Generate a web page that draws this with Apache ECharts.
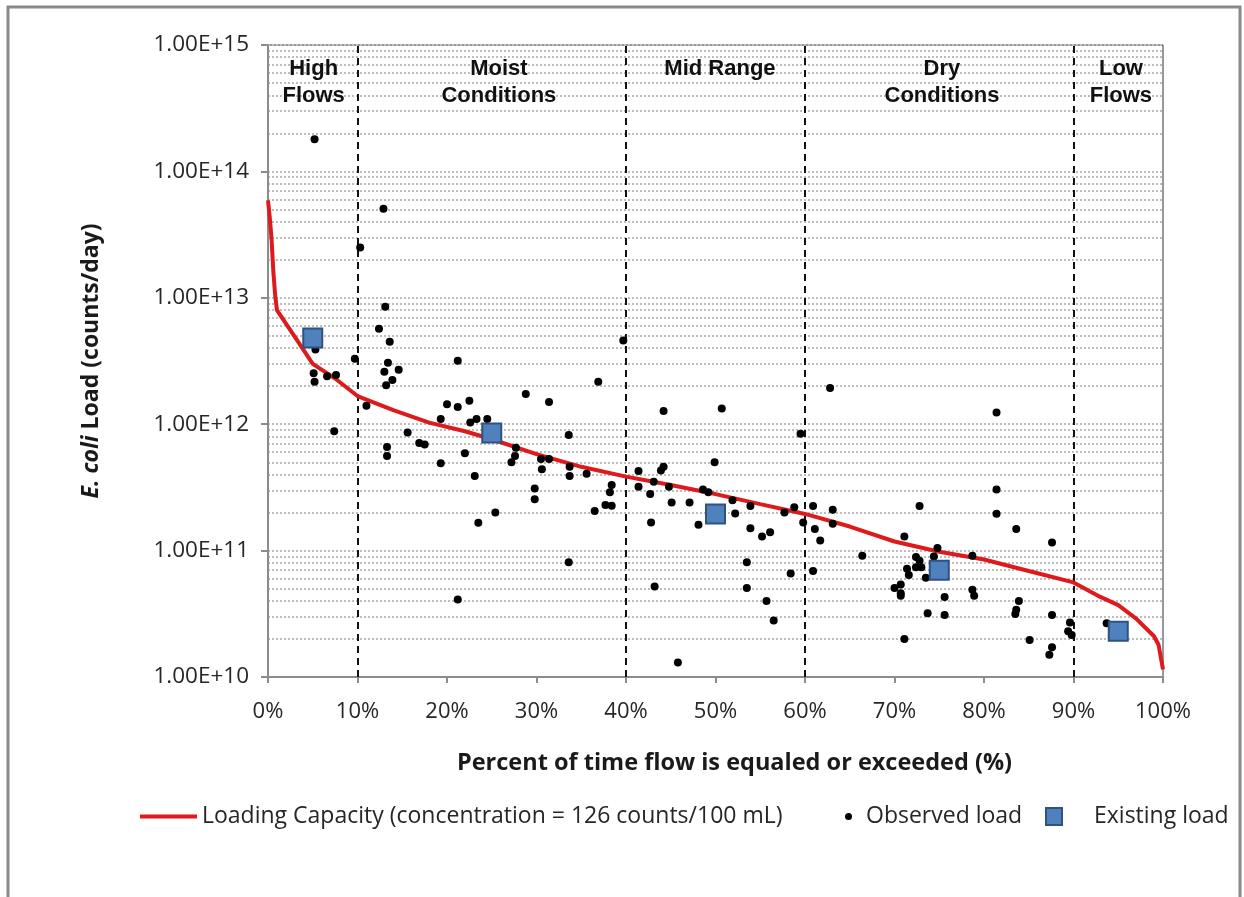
<!DOCTYPE html>
<html>
<head>
<meta charset="utf-8">
<script src="https://cdn.jsdelivr.net/npm/echarts@6/dist/echarts.min.js"></script>
<style>
  html, body { margin: 0; padding: 0; background: #fff; }
  #chart { width: 1244px; height: 897px; }
</style>
</head>
<body>
<div id="chart"></div>
<script>
// loading capacity curve (flow duration %, counts/day)
var capPct = [0, 0.2, 0.4, 0.6, 0.8, 1, 3, 5, 7.5, 10, 14, 18, 22, 25, 30, 35, 40, 45, 50, 55, 60, 65, 70, 75, 80, 85, 90, 93, 95, 97, 99, 99.5, 100];
var capLoad = [5.9e13, 4.3e13, 2.9e13, 1.6e13, 1.05e13, 8.0e12, 4.9e12, 3.0e12, 2.3e12, 1.67e12, 1.29e12, 1.03e12, 8.8e11, 7.6e11, 5.8e11, 4.6e11, 3.85e11, 3.3e11, 2.8e11, 2.33e11, 1.95e11, 1.55e11, 1.18e11, 9.8e10, 8.5e10, 6.9e10, 5.6e10, 4.3e10, 3.7e10, 2.9e10, 2.1e10, 1.8e10, 1.15e10];

// observed loads
var obsPct = [5.2, 12.9, 10.3, 13.1, 12.4, 13.6, 5.3, 9.7, 13.4, 21.2, 5.1, 5.2, 6.6, 7.6, 7.4, 11.0, 13.0, 14.6, 13.9, 13.2,
  13.3, 13.3, 15.6, 16.9, 17.5, 19.3, 19.3, 20.0, 21.2, 22.5, 22.6, 23.3, 22.0, 23.1, 23.5, 21.2, 24.5, 25.4, 27.7, 27.6,
  27.2, 28.8, 31.4, 30.5, 31.4, 30.6, 29.8, 29.8, 33.6, 33.7, 33.7, 35.6, 33.6, 36.9, 36.5, 37.7, 38.4, 38.2, 38.4, 39.7,
  41.4, 41.4, 42.7, 42.8, 43.1, 44.2, 43.9, 44.2, 44.8, 45.1, 43.2, 45.8, 47.1, 48.1, 48.6, 49.2, 50.7, 49.9, 51.9, 52.2,
  53.9, 53.9, 55.2, 56.1, 53.5, 53.5, 55.7, 56.5, 57.7, 58.8, 58.4, 59.5, 59.8, 60.9, 61.1, 61.7, 60.9, 62.8, 63.1, 63.1,
  66.4, 71.1, 70.0, 70.7, 70.7, 70.7, 71.1, 71.4, 71.6, 72.4, 72.8, 72.4, 73.0, 72.8, 73.5, 73.7, 74.8, 74.4, 75.6, 75.6,
  78.7, 78.7, 78.9, 81.4, 81.4, 81.4, 83.6, 83.9, 83.6, 83.5, 85.1, 87.6, 87.6, 87.6, 87.3, 89.6, 89.4, 89.8, 93.7];
var obsLoad = [1.8e14, 5.07e13, 2.5e13, 8.5e12, 5.7e12, 4.5e12, 3.9e12, 3.3e12, 3.07e12, 3.18e12, 2.53e12, 2.17e12, 2.4e12, 2.45e12, 8.8e11, 1.4e12, 2.6e12, 2.7e12, 2.24e12, 2.03e12,
  6.6e11, 5.6e11, 8.6e11, 7.1e11, 6.9e11, 1.1e12, 4.9e11, 1.44e12, 1.37e12, 1.53e12, 1.03e12, 1.1e12, 5.9e11, 3.9e11, 1.66e11, 4.1e10, 1.1e12, 2.0e11, 6.5e11, 5.6e11,
  5.0e11, 1.73e12, 1.5e12, 5.3e11, 5.3e11, 4.4e11, 3.1e11, 2.55e11, 8.2e11, 4.6e11, 3.9e11, 4.06e11, 8.1e10, 2.17e12, 2.06e11, 2.3e11, 2.26e11, 2.9e11, 3.3e11, 4.6e12,
  4.26e11, 3.2e11, 2.8e11, 1.67e11, 3.5e11, 1.27e12, 4.3e11, 4.6e11, 3.2e11, 2.4e11, 5.2e10, 1.3e10, 2.4e11, 1.6e11, 3.05e11, 2.9e11, 1.33e12, 5.0e11, 2.5e11, 1.97e11,
  2.25e11, 1.5e11, 1.29e11, 1.4e11, 8.1e10, 5.06e10, 4.0e10, 2.8e10, 2.0e11, 2.2e11, 6.6e10, 8.4e11, 1.67e11, 2.25e11, 1.48e11, 1.2e11, 6.9e10, 1.93e12, 2.1e11, 1.63e11,
  9.1e10, 1.29e11, 5.06e10, 5.4e10, 4.6e10, 4.4e10, 2.0e10, 7.2e10, 6.4e10, 8.9e10, 8.3e10, 7.4e10, 7.4e10, 2.25e11, 6.1e10, 3.2e10, 1.05e11, 9.0e10, 4.3e10, 3.1e10,
  9.1e10, 4.9e10, 4.4e10, 1.24e12, 3.05e11, 1.96e11, 1.48e11, 4.0e10, 3.4e10, 3.15e10, 1.96e10, 1.16e11, 3.1e10, 1.72e10, 1.5e10, 2.7e10, 2.3e10, 2.15e10, 2.66e10];

// existing load (flow zone midpoints)
var exPct = [5, 25, 50, 75, 95];
var exLoad = [4.8e12, 8.5e11, 1.95e11, 7.0e10, 2.3e10];

// flow zones
var zoneBounds = [10, 40, 60, 90];
var zoneNames = ['High\nFlows', 'Moist\nConditions', 'Mid Range', 'Dry\nConditions', 'Low\nFlows'];
var zoneCenters = [5.1, 25.8, 50.5, 75.3, 95.3];

var decades = [1e10, 1e11, 1e12, 1e13, 1e14];
var minorSteps = [2, 3, 4, 5, 6, 7, 8, 9];

var capName = 'Loading Capacity (concentration = 126 counts/100 mL)';
var obsName = 'Observed load';
var exName = 'Existing load';

var font = '"Open Sans", Lato, sans-serif';
var textColor = '#262626';

var minorLines = [];
decades.forEach(function (d) {
  minorSteps.forEach(function (m) { minorLines.push({ yAxis: d * m }); });
});

var chart = echarts.init(document.getElementById('chart'));

chart.setOption({
  backgroundColor: '#fff',
  animation: false,
  graphic: [{
    type: 'rect',
    shape: { x: 8, y: 7, width: 1232, height: 900 },
    style: { fill: 'none', stroke: '#8a8a8a', lineWidth: 3 },
    silent: true
  }],
  grid: {
    left: 268, right: 81, top: 45, bottom: 220,
    show: true, borderColor: '#333', borderWidth: 1
  },
  legend: [{
    data: [{ name: capName, icon: 'rect' }],
    left: 140, top: 805, padding: 0, itemWidth: 57, itemHeight: 4,
    textStyle: { fontFamily: font, fontSize: 23, color: textColor }
  }, {
    data: [{ name: obsName, icon: 'circle' }],
    left: 845, top: 805, padding: 0, itemWidth: 7, itemHeight: 7,
    textStyle: { fontFamily: font, fontSize: 23, color: textColor, padding: [0, 0, 0, 9] }
  }, {
    data: [{ name: exName, icon: 'rect' }],
    left: 1045, top: 805, padding: 0, itemWidth: 16, itemHeight: 17,
    textStyle: { fontFamily: font, fontSize: 23, color: textColor, padding: [0, 0, 0, 27] }
  }],
  xAxis: {
    type: 'value', min: 0, max: 100, interval: 10,
    name: 'Percent of time flow is equaled or exceeded (%)',
    nameLocation: 'middle', nameGap: 74,
    nameTextStyle: { fontFamily: font, fontSize: 23.5, fontWeight: 'bold', color: '#1a1a1a', padding: [0, 0, 0, 38] },
    axisLine: { lineStyle: { color: '#8c8c8c', width: 2 } },
    axisTick: { show: true, length: 6, lineStyle: { color: '#8c8c8c', width: 2 } },
    axisLabel: { formatter: '{value}%', margin: 24, fontFamily: font, fontSize: 22, color: textColor },
    splitLine: { show: false }
  },
  yAxis: {
    type: 'log', logBase: 10, min: 1e10, max: 1e15,
    name: '{i|E. coli} Load (counts/day)',
    nameLocation: 'middle', nameRotate: 90, nameGap: 165,
    nameTextStyle: {
      fontFamily: font, fontSize: 23, fontWeight: 'bold', color: '#1a1a1a',
      rich: { i: { fontFamily: font, fontSize: 23, fontWeight: 'bold', fontStyle: 'italic', color: '#1a1a1a' } }
    },
    axisLine: { show: true, lineStyle: { color: '#8c8c8c', width: 2 } },
    axisTick: { show: true, length: 7, lineStyle: { color: '#8c8c8c', width: 2 } },
    axisLabel: {
      margin: 19, fontFamily: font, fontSize: 22.5, color: textColor,
      formatter: function (v) { return v.toExponential(2).toUpperCase(); }
    },
    splitLine: { show: true, lineStyle: { color: '#bdbdbd', width: 2, type: [2, 2] } }
  },
  series: [{
    // minor log grid lines
    name: 'gridlines', type: 'scatter', data: [], silent: true,
    markLine: {
      silent: true, symbol: 'none', animation: false, z: 0,
      label: { show: false },
      lineStyle: { color: '#bdbdbd', width: 2, type: [2, 2] },
      data: minorLines
    }
  }, {
    // flow zone boundaries
    name: 'zones', type: 'scatter', data: [], silent: true,
    markLine: {
      silent: true, symbol: 'none', animation: false, z: 1,
      label: { show: false },
      lineStyle: { color: '#111', width: 2, type: [7, 5] },
      data: zoneBounds.map(function (b) { return { xAxis: b }; })
    }
  }, {
    name: 'zoneLabels', type: 'scatter', z: 6, silent: true, symbolSize: 0,
    itemStyle: { opacity: 1 },
    data: zoneCenters.map(function (c, i) { return { name: zoneNames[i], value: [c, 1e15] }; }),
    label: {
      show: true, position: 'bottom', distance: 10,
      formatter: '{b}', fontFamily: '"Liberation Sans", Arial, sans-serif',
      fontSize: 22, fontWeight: 'bold', color: '#111', lineHeight: 27, align: 'center'
    }
  }, {
    name: capName, type: 'line', z: 3, showSymbol: false, smooth: false,
    lineStyle: { color: '#de1a1c', width: 4 },
    itemStyle: { color: '#de1a1c' },
    data: capPct.map(function (p, i) { return [p, capLoad[i]]; })
  }, {
    name: obsName, type: 'scatter', z: 4, symbol: 'circle', symbolSize: 8,
    itemStyle: { color: '#000', opacity: 1 },
    data: obsPct.map(function (p, i) { return [p, obsLoad[i]]; })
  }, {
    name: exName, type: 'scatter', z: 5, symbol: 'rect', symbolSize: 19,
    itemStyle: { color: '#4f81bd', borderColor: '#2f5283', borderWidth: 2, opacity: 1 },
    data: exPct.map(function (p, i) { return [p, exLoad[i]]; })
  }]
});
</script>
</body>
</html>
